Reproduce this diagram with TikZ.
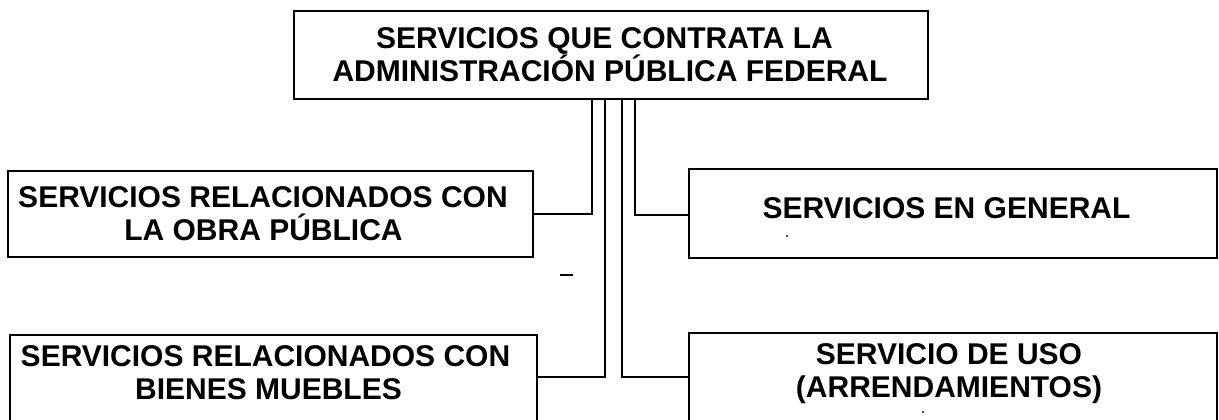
\documentclass[tikz,border=0pt]{standalone}
\usepackage{fontspec}
\setmainfont{Liberation Sans}
\newcommand\tailgap[1]{\kern#1pt\mbox{}}
\begin{document}
\begin{tikzpicture}[x=1pt,y=-1pt,
  box/.style={draw, line width=2.2pt, inner sep=0pt, align=center,
    font=\bfseries\fontsize{30}{33}\selectfont},
  conn/.style={line width=2.2pt}]
\useasboundingbox (0,0) rectangle (1219,420);
\clip (0,0) rectangle (1219,420);
\node[box, minimum width=634pt, minimum height=88pt] (top) at (611,55)
  {SERVICIOS QUE CONTRATA LA\tailgap{13}\\ADMINISTRACIÓN PÚBLICA FEDERAL\tailgap{2}};
\node[box, minimum width=525pt, minimum height=86pt] (lb1) at (270.5,214)
  {SERVICIOS RELACIONADOS CON\tailgap{15}\\LA OBRA PÚBLICA\tailgap{14}};
\node[box, minimum width=527pt, minimum height=90pt, text depth=15pt] (lb2) at (273.5,380)
  {SERVICIOS RELACIONADOS CON\tailgap{16}\\BIENES MUEBLES\tailgap{10}};
\node[box, minimum width=528pt, minimum height=89pt, text depth=11pt] (rb1) at (953,213.5)
  {SERVICIOS EN GENERAL\tailgap{13}};
\node[box, minimum width=528pt, minimum height=90pt, text depth=15pt] (rb2) at (953,378)
  {SERVICIO DE USO\tailgap{8}\\(ARRENDAMIENTOS)\tailgap{8}};
\draw[conn] ([xshift=-19pt]top.south) |- (lb1.east);
\draw[conn] ([xshift=-6pt]top.south) |- ([yshift=3pt]lb2.east);
\draw[conn] ([xshift=11pt]top.south) |- ([yshift=1pt]rb2.west);
\draw[conn] ([xshift=24pt]top.south) |- ([yshift=-1.5pt]rb1.west);
\draw[line width=2pt] (560,275) -- (573,275);
\fill (787,236) circle (1.2);
\fill (923,412) circle (1.2);
\end{tikzpicture}
\end{document}
